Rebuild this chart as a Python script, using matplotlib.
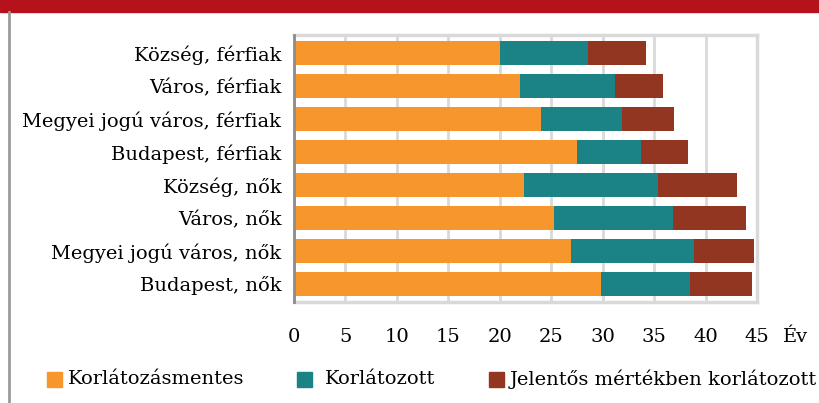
import matplotlib.pyplot as plt
import numpy as np
from matplotlib.patches import Rectangle
from matplotlib.lines import Line2D

categories = ['Község, férfiak', 'Város, férfiak', 'Megyei jogú város, férfiak', 'Budapest, férfiak',
              'Község, nők', 'Város, nők', 'Megyei jogú város, nők', 'Budapest, nők']
korlatozasmentes = [20.0, 22.0, 24.0, 27.5, 22.4, 25.3, 26.9, 29.8]
korlatozott = [8.6, 9.2, 7.9, 6.2, 13.0, 11.5, 12.0, 8.7]
jelentos = [5.6, 4.7, 5.0, 4.6, 7.7, 7.1, 5.8, 6.0]
series_names = ['Korlátozásmentes', 'Korlátozott', 'Jelentős mértékben korlátozott']
colors = ['#f7962d', '#1b8385', '#933621']
xticks = list(range(0, 50, 5))

plt.rcParams['font.family'] = ['DejaVu Serif']
fs = 14

fig = plt.figure(figsize=(8.19, 4.03), dpi=100)
W, H = 819, 403
ax = fig.add_axes([294 / W, 1 - 302 / H, (757 - 294) / W, (302 - 35) / H])

y = np.arange(len(categories))
left = np.zeros(len(categories))
for vals, c, name in zip([korlatozasmentes, korlatozott, jelentos], colors, series_names):
    ax.barh(y, vals, left=left, height=0.73, color=c, label=name, zorder=3)
    left = left + np.array(vals)

ax.set_ylim(len(categories) - 0.45, -0.55)
ax.set_xlim(0, 45)
ax.set_yticks(y)
ax.set_yticklabels(categories, fontsize=fs)
ax.set_xticks(xticks)
ax.set_xticklabels([str(t) for t in xticks], fontsize=fs)
ax.tick_params(axis='both', length=0)
ax.tick_params(axis='x', pad=19)
ax.tick_params(axis='y', pad=9)
ax.grid(axis='x', color='#d9d9d9', linewidth=2, zorder=0)
for s in ['top', 'right', 'bottom']:
    ax.spines[s].set_color('#d9d9d9')
    ax.spines[s].set_linewidth(2.5)
ax.spines['left'].set_color('#8c8c8c')
ax.spines['left'].set_linewidth(2)
ax.spines['left'].set_zorder(5)

fig.text(783 / W, 1 - 337 / H, 'Év', fontsize=fs, va='center', ha='left')

# red band and left line
fig.patches.append(Rectangle((0, 1 - 12 / H), 1, 12 / H, transform=fig.transFigure,
                             color='#b5121b', zorder=0))
fig.lines.append(Line2D([9 / W, 9 / W], [0, 1 - 12 / H], transform=fig.transFigure,
                        color='#9a9a9a', linewidth=2))

# legend, drawn by hand to match spacing
leg_x = [47, 297, 489]
leg_y = 379
for x0, c, name in zip(leg_x, colors, series_names):
    fig.patches.append(Rectangle((x0 / W, 1 - (leg_y + 7.5) / H), 15 / W, 15 / H,
                                 transform=fig.transFigure, color=c))
    fig.text((x0 + 21 if x0 != 297 else x0 + 28) / W, 1 - leg_y / H, name, fontsize=fs,
             va='center', ha='left')

fig.savefig('out.png', dpi=100)
